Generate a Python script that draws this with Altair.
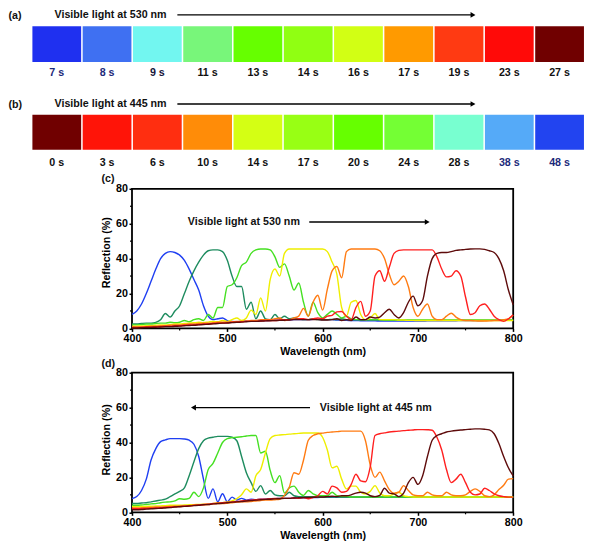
import altair as alt
import pandas as pd

FONT = "Liberation Sans"
FS = 10.7

# ---------------- swatch rows ----------------
A_TIMES = ["7 s", "8 s", "9 s", "11 s", "13 s", "14 s", "16 s", "17 s", "19 s", "23 s", "27 s"]
A_COLORS = ["#1f30f0", "#3f70f2", "#72f6f0", "#78f67a", "#66ff00", "#90ff12", "#d2ff14",
            "#ff9a00", "#ff3a12", "#ff0a08", "#700000"]
A_LABEL_COLORS = ["#1c2a7a", "#1c2a7a", "#15153a", "#111111", "#111111", "#111111", "#111111",
                  "#111111", "#111111", "#111111", "#111111"]
B_TIMES = ["0 s", "3 s", "6 s", "10 s", "14 s", "17 s", "20 s", "24 s", "28 s", "38 s", "48 s"]
B_COLORS = ["#700000", "#ff1408", "#ff2e10", "#ff8c08", "#d4ff14", "#98ff14", "#66ff00",
            "#74ff34", "#78ffd0", "#55aaf8", "#2244f0"]
B_LABEL_COLORS = ["#111111", "#111111", "#111111", "#111111", "#111111", "#111111", "#111111",
                  "#111111", "#111111", "#1c2a7a", "#1c2a7a"]

# ---------------- spectra ----------------
WAVELENGTH = list(range(400, 801, 5))
SERIES = ["blue", "teal", "green", "yellow", "orange", "red", "brown"]
LINE_COLORS = ["#1f3ff2", "#1e8c5f", "#45e022", "#eeee00", "#ff7b12", "#ff1f1f", "#5e0b0b"]
X_TICKS = [400, 500, 600, 700, 800]
Y_TICKS = [0, 20, 40, 60, 80]
X_MINOR = [450, 550, 650, 750]
Y_MINOR = [10, 30, 50, 70]

C_BLUE = [8, 10, 14, 20, 27, 34, 40, 43, 44, 43.5,
          42, 39, 34, 28, 22, 13, 7, 5, 5.5, 6,
          4.5, 4, 3.8, 4, 4.2, 4, 4.3, 4.5, 4.5, 4.6,
          4.6, 4.7, 4.8, 4.8, 5, 5, 5, 5, 5.2, 5.2,
          5, 5, 5, 4.8, 4.8, 4.6, 4.5, 4.5, 4.4, 4.4,
          4.3, 4.3, 4.2, 4.2, 4.2, 4.2, 4.2, 4.2, 4.2, 4.2,
          4.2, 4.2, 4.3, 4.3, 4.3, 4.4, 4.4, 4.4, 4.4, 4.5,
          4.5, 4.5, 4.5, 4.5, 4.6, 4.6, 4.6, 4.6, 4.6, 4.6,
          4.6]
C_TEAL = [2.5, 2.5, 2.8, 3, 3, 3.5, 5, 8.5, 6.5, 10,
          13, 20, 27, 33, 38, 42, 44.5, 45, 45, 44,
          39, 30, 24, 24, 11, 15, 5.5, 10, 5.5, 5,
          8, 5.5, 7, 5.5, 6, 5.5, 5, 5, 5.5, 5,
          5, 5, 5.2, 5, 5.5, 5, 5, 5, 4.8, 4.8,
          4.8, 4.8, 4.8, 4.7, 4.7, 4.7, 4.6, 4.6, 4.6, 4.6,
          4.6, 4.6, 4.6, 4.6, 4.6, 4.6, 4.6, 4.6, 4.6, 4.6,
          4.6, 4.6, 4.6, 4.6, 4.6, 4.6, 4.6, 4.6, 4.6, 4.6,
          4.6]
C_GREEN = [2, 2, 2.2, 2.5, 2.5, 2.8, 3, 3, 3.5, 3.2,
           3.5, 4.5, 3.8, 5, 5.5, 4.5, 8, 6, 12, 12,
           24, 25, 29, 36, 38, 43, 45, 45.5, 45.5, 45,
           41, 35, 37, 30, 22, 26, 15, 7, 15, 9,
           6, 8, 10, 8, 6, 7, 5.5, 5, 5, 5,
           5, 5, 5, 4.8, 4.8, 4.8, 4.8, 4.8, 4.8, 4.8,
           4.8, 4.8, 4.8, 4.8, 4.8, 4.8, 4.8, 4.8, 4.8, 4.8,
           4.8, 4.8, 4.8, 4.8, 4.8, 4.8, 4.8, 4.8, 4.8, 4.8,
           4.8]
C_YELLOW = [1.2, 1.3, 1.4, 1.5, 1.5, 1.8, 2, 2, 2.2, 2.5,
            2.5, 2.8, 3, 3.2, 3.5, 3.3, 3.6, 4, 3.8, 4.5,
            4, 5, 6, 4.5, 6, 10.5, 8, 17.5, 10, 28,
            34, 30, 43, 45.5, 45.5, 45.5, 45.5, 45.5, 45.5, 45.5,
            45.5, 44, 38, 31, 12, 7, 15, 16, 8, 5,
            6, 8.5, 5, 5, 5, 5, 4.8, 4.8, 4.6, 4.6,
            4.5, 4.5, 4.5, 4.5, 4.5, 4.5, 4.5, 4.5, 4.5, 4.5,
            4.5, 4.5, 4.5, 4.5, 4.5, 4.5, 4.5, 4.5, 4.5, 4.5,
            4.5]
C_ORANGE = [0.8, 0.8, 1, 1, 1.2, 1.2, 1.5, 1.5, 1.8, 2,
            2, 2.2, 2.5, 2.5, 2.8, 3, 3, 3.2, 3.5, 3.5,
            3.5, 3.8, 4, 4, 4.2, 4.5, 4.5, 5, 5, 5,
            5.5, 6, 4.5, 5, 6, 7, 11.5, 7, 15, 19,
            10.5, 22.5, 33, 35.5, 29, 44, 45.5, 45.5, 45.5, 45.5,
            45.5, 45.5, 44.5, 40, 31, 25, 27, 30, 24, 12,
            7, 11, 14, 7, 5, 5, 7, 8.7, 6.5, 5,
            4.5, 4.5, 4.3, 4.2, 4.2, 4.3, 4.5, 4.5, 5, 5.5,
            7.5]
C_RED = [0.5, 0.5, 0.6, 0.8, 0.8, 1, 1, 1.2, 1.2, 1.5,
         1.5, 1.8, 2, 2, 2.2, 2.5, 2.5, 2.8, 3, 3,
         3.2, 3.5, 3.5, 3.8, 4, 4, 4, 4.2, 4.5, 4.5,
         4.5, 4.8, 5, 5, 5.2, 5.5, 5.5, 5, 5.5, 6,
         5.5, 7, 7.5, 9.5, 9.7, 7, 5, 12, 15.5, 7,
         10, 30, 33, 27, 35, 43, 44.7, 45, 45, 45,
         45, 45, 45, 45, 41, 34, 29.5, 30, 33, 30,
         18, 8, 9, 13, 14, 11, 7, 5, 4, 5.5,
         7.8]
C_BROWN = [0.3, 0.3, 0.4, 0.5, 0.6, 0.7, 0.8, 1, 1, 1.2,
           1.3, 1.5, 1.7, 1.8, 2, 2.2, 2.4, 2.6, 2.8, 3,
           3.1, 3.3, 3.5, 3.6, 3.8, 4, 4, 4.2, 4.3, 4.4,
           4.5, 4.6, 4.7, 4.8, 5, 5, 5, 5, 5, 5,
           4.8, 4.8, 5, 5.5, 4.5, 5, 4.5, 6.5, 5, 5,
           6.5, 6, 6.5, 9, 11, 8, 6, 9, 15, 18.5,
           13, 16, 30, 40, 43, 43.5, 43.5, 44, 44.7, 45,
           45.3, 45.5, 45.6, 45.6, 45.3, 44.5, 43.5, 40, 33, 22,
           13.5]

D_BLUE = [7.8, 9, 12.5, 19, 30, 36.5, 40.5, 41.5, 42.2, 42.2,
          42.2, 42, 41.3, 39, 32, 19, 8, 13.4, 6, 10.6,
          6, 8.7, 7, 8, 7, 7.5, 7.2, 7.5, 7.5, 7.8,
          7.8, 8, 8, 8, 8.2, 8.2, 8.3, 8.3, 8.5, 8.5,
          8.6, 8.6, 8.6, 8.6, 8.6, 8.6, 8.6, 8.6, 8.6, 8.6,
          8.6, 8.6, 8.7, 8.7, 8.7, 8.7, 8.7, 8.7, 8.7, 8.7,
          8.7, 8.7, 8.7, 8.7, 8.7, 8.7, 8.7, 8.7, 8.7, 8.7,
          8.7, 8.7, 8.7, 8.7, 8.7, 8.7, 8.7, 8.7, 8.7, 8.7,
          8.7]
D_TEAL = [5, 5, 5.3, 5.5, 6, 6.5, 7, 7.5, 9, 10.5,
          12, 14, 21, 29, 36.5, 41, 42.5, 43, 43.5, 43.5,
          43.5, 43, 41, 32, 22.7, 17, 12, 15.3, 10.5, 12.5,
          10, 9.5, 9.5, 11.5, 9.5, 9, 9, 9, 9, 8.8,
          8.8, 8.8, 8.8, 8.8, 8.8, 8.8, 8.8, 8.8, 8.8, 8.8,
          8.8, 8.8, 8.8, 8.8, 8.8, 8.8, 8.8, 8.8, 8.8, 8.8,
          8.8, 8.8, 8.8, 8.8, 8.8, 8.8, 8.8, 8.8, 8.8, 8.8,
          8.8, 8.8, 8.8, 8.8, 8.8, 8.8, 8.8, 8.8, 8.8, 8.8,
          8.8]
D_GREEN = [4, 4, 4.2, 4.5, 4.8, 5, 5.5, 5.8, 6, 6.5,
           7.8, 7.5, 8, 11.5, 9, 14, 24.5, 28, 34, 40,
           42.2, 42.8, 43, 43.3, 43.7, 44, 44, 34, 35, 24,
           17, 21, 11, 14, 15, 11.5, 9.7, 12.5, 10.6, 9.5,
           9.5, 9.5, 11.5, 9.5, 9, 9, 8.8, 8.8, 8.8, 8.8,
           8.8, 8.8, 8.8, 8.8, 8.8, 8.8, 8.8, 8.8, 8.8, 8.8,
           8.8, 8.8, 8.8, 8.8, 8.8, 8.8, 8.8, 8.8, 8.8, 8.8,
           8.8, 8.8, 8.8, 8.8, 8.8, 8.8, 8.8, 8.8, 8.8, 8.8,
           8.8]
D_YELLOW = [3.2, 3.2, 3.3, 3.4, 3.5, 3.6, 3.7, 3.8, 4, 4,
            4, 4.2, 4.3, 4.4, 4.5, 4.6, 4.6, 5, 5.5, 5.5,
            6, 6.5, 7.8, 10, 13.4, 11.5, 21, 24.5, 34, 42.2,
            44, 44.3, 44.5, 44.8, 45, 45.2, 45.4, 45.4, 45.4, 45.4,
            43, 35.7, 25.5, 26.4, 19, 13.4, 15, 15, 11.5, 10.5,
            12, 15.3, 11, 9.5, 9.5, 10.5, 11.5, 9.5, 9, 8.8,
            8.8, 8.8, 8.8, 8.8, 8.8, 8.8, 8.8, 8.8, 8.8, 8.8,
            8.8, 8.8, 8.8, 8.8, 8.8, 8.8, 8.8, 8.8, 8.8, 8.8,
            8.8]
D_ORANGE = [2.5, 2.5, 2.6, 2.7, 2.8, 3, 3, 3.2, 3.3, 3.5,
            3.5, 3.6, 3.8, 4, 4.2, 4.3, 4.5, 4.8, 5, 5,
            5.2, 5.5, 5.8, 6, 6, 6.2, 6.5, 6.8, 7, 7,
            7.2, 7.5, 9.7, 14.3, 22.7, 21.8, 30, 41.3, 44, 45,
            45.4, 45.8, 46, 46.2, 46.5, 46.5, 46.5, 46.5, 46.5, 41,
            27, 20, 23, 18, 13, 11, 11.5, 15.3, 12.5, 10,
            9.5, 9.5, 11.5, 10, 9.5, 9.5, 11.5, 10, 9.5, 9.5,
            10, 12, 13.4, 12, 9.5, 9, 10, 13, 15.5, 19,
            19.3]
D_RED = [2, 2, 2.1, 2.2, 2.3, 2.5, 2.6, 2.8, 3, 3.2,
         3.3, 3.5, 3.7, 4, 4.2, 4.5, 4.7, 5, 5.2, 5.5,
         5.7, 6, 6.2, 6.5, 6.8, 7, 7.2, 7.5, 7.5, 7.8,
         8, 8, 8, 8, 8.2, 8, 8.5, 7.8, 8.5, 9.5,
         12, 10.5, 15, 14, 11.5, 12, 16, 21.8, 18, 17.5,
         26, 44, 45, 45.5, 46, 46.3, 46.5, 46.8, 47, 47.2,
         47.4, 47.4, 47.3, 47, 43, 35.7, 24.5, 17, 19, 21.8,
         17, 11.5, 10, 10.5, 13.8, 12.5, 10.6, 9.5, 9, 8.7,
         8.7]
D_BROWN = [1.5, 1.5, 1.6, 1.8, 2, 2.2, 2.3, 2.5, 2.7, 3,
           3.2, 3.4, 3.6, 3.8, 4, 4.3, 4.5, 4.8, 5, 5.2,
           5.5, 5.8, 6, 6.2, 6.5, 6.7, 7, 7.2, 7.4, 7.5,
           7.7, 7.8, 8, 8, 8.2, 8.3, 8.4, 8.5, 8.6, 8.7,
           8.8, 9, 9.2, 9, 9.5, 9.5, 10, 11, 11.5, 11,
           9.5, 9, 9.7, 13.8, 11, 10.6, 9, 11, 17, 20,
           16, 21, 32, 41.3, 44, 45, 46, 46.5, 46.9, 47.2,
           47.4, 47.6, 47.8, 47.8, 47.6, 47.2, 45, 39.4, 32, 25.5,
           20.8]

# ---------------- layout constants ----------------
PLOT_W = 381.2
PLOT_H = 139.6
SW_FRAC = 0.9696          # swatch width as a fraction of the swatch pitch
SW_XRANGE = [-99.6, 453.5]  # pixel span of the 11 swatch slots, relative to plot origin


def swatch_panel(times, colors, label_colors, letter, title, yrange, y_label, y_title, y_letter):
    xs = alt.Scale(domain=[0, 11], range=SW_XRANGE)
    ys = alt.Scale(domain=[0, 1], range=yrange)
    n = len(times)
    df = pd.DataFrame({
        "i": list(range(n)),
        "i2": [k + SW_FRAC for k in range(n)],
        "y": [0] * n,
        "y2": [1] * n,
        "color": colors,
    })
    lab = pd.DataFrame({
        "i": [k + SW_FRAC / 2 for k in range(n)],
        "y": [y_label] * n,
        "t": times,
        "lc": label_colors,
    })
    rects = alt.Chart(df).mark_rect(strokeWidth=0).encode(
        x=alt.X("i:Q", scale=xs, axis=None),
        x2="i2:Q",
        y=alt.Y("y:Q", scale=ys, axis=None),
        y2="y2:Q",
        color=alt.Color("color:N", scale=None, legend=None),
    )
    labels = alt.Chart(lab).mark_text(font=FONT, fontSize=FS, fontWeight="bold",
                                      align="center", baseline="middle").encode(
        x=alt.X("i:Q", scale=xs, axis=None),
        y=alt.Y("y:Q", scale=ys, axis=None),
        text="t:N",
        color=alt.Color("lc:N", scale=None, legend=None),
    )
    head = pd.DataFrame({"i": [-0.477, 0.44], "y": [y_letter, y_title], "t": [letter, title]})
    heads = alt.Chart(head).mark_text(font=FONT, fontSize=FS, fontWeight="bold",
                                      align="left", baseline="middle", color="#111111").encode(
        x=alt.X("i:Q", scale=xs, axis=None),
        y=alt.Y("y:Q", scale=ys, axis=None),
        text="t:N",
    )
    arr = pd.DataFrame({"i": [2.883], "i2": [8.77], "y": [y_title]})
    rule = alt.Chart(arr).mark_rule(color="black", strokeWidth=1.4).encode(
        x=alt.X("i:Q", scale=xs, axis=None),
        x2="i2:Q",
        y=alt.Y("y:Q", scale=ys, axis=None),
    )
    tip = pd.DataFrame({"i": [8.763], "y": [y_title]})
    arrowhead = alt.Chart(tip).mark_point(shape="triangle-right", filled=True, size=32,
                                          color="black", opacity=1).encode(
        x=alt.X("i:Q", scale=xs, axis=None),
        y=alt.Y("y:Q", scale=ys, axis=None),
    )
    return alt.layer(rects, labels, heads, rule, arrowhead).properties(width=PLOT_W, height=35)


def line_panel(arrays, letter, letter_x, letter_y, text, text_x, text_y, arrow_x, arrow_x2,
               tip_x, tip_shape, title_y):
    xs = alt.Scale(domain=[400, 800], nice=False, zero=False)
    ys = alt.Scale(domain=[0, 80], nice=False)
    rows = []
    for key, arr in zip(SERIES, arrays):
        for w, r in zip(WAVELENGTH, arr):
            rows.append({"wl": w, "R": r, "series": key})
    df = pd.DataFrame(rows)
    xaxis = alt.Axis(values=X_TICKS, format="d", title="Wavelength (nm)",
                     labelFont=FONT, labelFontSize=FS, labelFontWeight="bold", labelColor="black",
                     labelPadding=2.5, tickSize=3, tickWidth=1.5, tickColor="black",
                     domain=False, grid=False, labelFlush=False, labelOverlap=False,
                     titleFont=FONT, titleFontSize=FS, titleFontWeight="bold", titleColor="black",
                     titleX=PLOT_W / 2, titleY=23.3, titleBaseline="middle", titleAlign="center")
    yaxis = alt.Axis(values=Y_TICKS, format="d", title="Reflection (%)",
                     labelFont=FONT, labelFontSize=FS, labelFontWeight="bold", labelColor="black",
                     labelPadding=1.5, tickSize=3, tickWidth=1.5, tickColor="black",
                     domain=False, grid=False, labelFlush=False, labelOverlap=False,
                     titleFont=FONT, titleFontSize=FS, titleFontWeight="bold", titleColor="black",
                     titleX=-25.8, titleY=title_y, titleBaseline="middle", titleAlign="center",
                     titleAngle=270)
    X = alt.X("wl:Q", scale=xs, axis=xaxis)
    Y = alt.Y("R:Q", scale=ys, axis=yaxis)
    lines = alt.Chart(df).mark_line(strokeWidth=1.4, interpolate="monotone").encode(
        x=X, y=Y,
        color=alt.Color("series:N", scale=alt.Scale(domain=SERIES, range=LINE_COLORS), legend=None),
    )
    ann = pd.DataFrame({"wl": [text_x, letter_x], "R": [text_y, letter_y], "t": [text, letter]})
    texts = alt.Chart(ann).mark_text(font=FONT, fontSize=FS, fontWeight="bold", align="left",
                                     baseline="middle", color="#111111").encode(
        x=X, y=Y, text="t:N")
    arr = pd.DataFrame({"wl": [arrow_x], "wl2": [arrow_x2], "R": [text_y]})
    rule = alt.Chart(arr).mark_rule(color="black", strokeWidth=1.4).encode(
        x=X, x2="wl2:Q", y=Y)
    tip = pd.DataFrame({"wl": [tip_x], "R": [text_y]})
    arrowhead = alt.Chart(tip).mark_point(shape=tip_shape, filled=True, size=32,
                                          color="black", opacity=1).encode(x=X, y=Y)
    # minor ticks (half-way between the labelled ones), 2 px long, outside the frame
    xm = pd.DataFrame({"wl": X_MINOR, "R": [0.0] * len(X_MINOR), "R2": [-1.15] * len(X_MINOR)})
    xminor = alt.Chart(xm).mark_rule(color="black", strokeWidth=1.2).encode(x=X, y=Y, y2="R2:Q")
    ym = pd.DataFrame({"wl": [400.0] * len(Y_MINOR), "wl2": [397.9] * len(Y_MINOR), "R": Y_MINOR})
    yminor = alt.Chart(ym).mark_rule(color="black", strokeWidth=1.2).encode(x=X, x2="wl2:Q", y=Y)
    return alt.layer(lines, texts, rule, arrowhead, xminor, yminor).properties(
        width=PLOT_W, height=PLOT_H,
        view=alt.ViewBackground(stroke="black", strokeWidth=1.8, fill="white"))


panel_a = swatch_panel(A_TIMES, A_COLORS, A_LABEL_COLORS, "(a)", "Visible light at 530 nm",
                       [31.1, -4.7], -0.307, 1.318, 1.274)
panel_b = swatch_panel(B_TIMES, B_COLORS, B_LABEL_COLORS, "(b)", "Visible light at 445 nm",
                       [39.9, 4.8], -0.362, 1.305, 1.268)
panel_c = line_panel([C_BLUE, C_TEAL, C_GREEN, C_YELLOW, C_ORANGE, C_RED, C_BROWN],
                     "(c)", 368, 85.5, "Visible light at 530 nm", 458.6, 61, 586, 710, 709.8,
                     "triangle-right", 63.4)
panel_d = line_panel([D_BLUE, D_TEAL, D_GREEN, D_YELLOW, D_ORANGE, D_RED, D_BROWN],
                     "(d)", 368, 85.0, "Visible light at 445 nm", 597, 60, 464.5, 586.8, 464.5,
                     "triangle-left", 66.7)

chart = alt.vconcat(panel_a, panel_b, panel_c, panel_d, spacing=43.9, bounds="flush").properties(
    padding={"left": 0, "top": 0, "right": 0, "bottom": 0}
).configure_view(stroke=None).configure_axis(labelOverlap=False)

chart.save("out.html", embed_options={"renderer": "svg", "actions": False})
